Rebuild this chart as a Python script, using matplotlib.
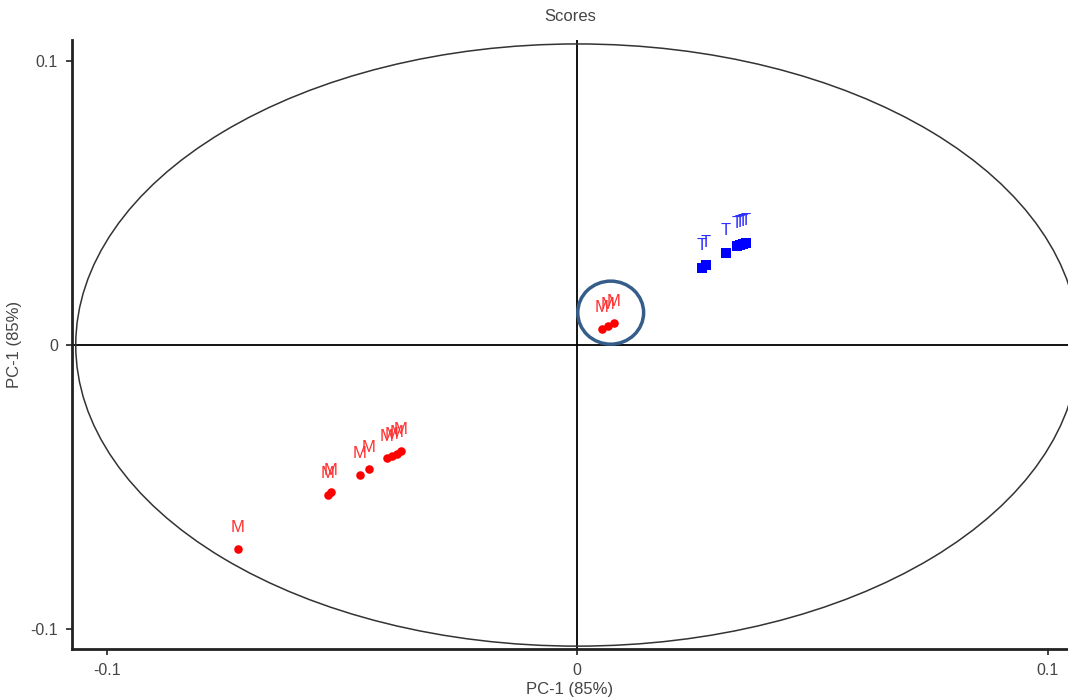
import matplotlib.pyplot as plt
from matplotlib.patches import Ellipse

plt.rcParams['font.family'] = ['Liberation Sans', 'DejaVu Sans']

# PCA scores, group M (red circles)
m_x = [-0.0722, -0.0530, -0.0524, -0.0462, -0.0443, -0.0405, -0.0394, -0.0384, -0.0375,
       0.0052, 0.0065, 0.0078]
m_y = [-0.0718, -0.0528, -0.0518, -0.0458, -0.0437, -0.0398, -0.0391, -0.0384, -0.0373,
       0.0056, 0.0067, 0.0077]

# PCA scores, group T (blue squares)
t_x = [0.0265, 0.0273, 0.0316, 0.0339, 0.0346, 0.0352, 0.0358]
t_y = [0.0271, 0.0282, 0.0324, 0.0349, 0.0352, 0.0356, 0.0359]

# Hotelling-type confidence ellipse half-axes
ell_a = 0.1066
ell_b = 0.1060

# highlighted cluster
hl_center = (0.0071, 0.0114)
hl_w, hl_h = 0.0140, 0.0222

fig = plt.figure(figsize=(10.68, 7.0), dpi=100)
ax = fig.add_axes([0.0674, 0.0729, 0.9326, 0.8700])

ax.axhline(0, color='black', lw=1.3, zorder=1)
ax.axvline(0, color='black', lw=1.3, zorder=1)
ax.add_patch(Ellipse((0, 0), 2 * ell_a, 2 * ell_b, fill=False, ec='#333333', lw=1.1, zorder=1))

ax.scatter(m_x, m_y, s=38, marker='o', color='#ff0000', lw=0, zorder=3)
ax.scatter(t_x, t_y, s=46, marker='s', color='#0000ff', lw=0, zorder=3)

for x, y in zip(m_x, m_y):
    ax.annotate('M', (x, y), xytext=(0, 15.5), textcoords='offset points',
                ha='center', va='center', color='#ff3030', fontsize=12)
for x, y in zip(t_x, t_y):
    ax.annotate('T', (x, y), xytext=(0, 16), textcoords='offset points',
                ha='center', va='center', color='#3030ff', fontsize=12)

ax.add_patch(Ellipse(hl_center, hl_w, hl_h, fill=False, ec='#355d8a', lw=2.5, zorder=4))

ax.set_xlim(-0.1074, 0.1043)
ax.set_ylim(-0.1070, 0.1074)
ax.set_xticks([-0.1, 0, 0.1])
ax.set_yticks([-0.1, 0, 0.1])
ax.set_xticklabels(['-0.1', '0', '0.1'])
ax.set_yticklabels(['-0.1', '0', '0.1'])
ax.tick_params(direction='out', length=4, width=1.3, colors='#333333',
               labelsize=11.5, labelcolor='#444444', pad=6)

for side in ['top', 'right']:
    ax.spines[side].set_visible(False)
for side in ['left', 'bottom']:
    ax.spines[side].set_linewidth(2)
    ax.spines[side].set_color('#222222')

ax.set_title('Scores', fontsize=12, color='#444444', pad=14)
ax.set_xlabel('PC-1 (85%)', fontsize=12, color='#444444', labelpad=3)
ax.set_ylabel('PC-1 (85%)', fontsize=12, color='#444444', labelpad=6)

fig.savefig('out.png', dpi=100)
